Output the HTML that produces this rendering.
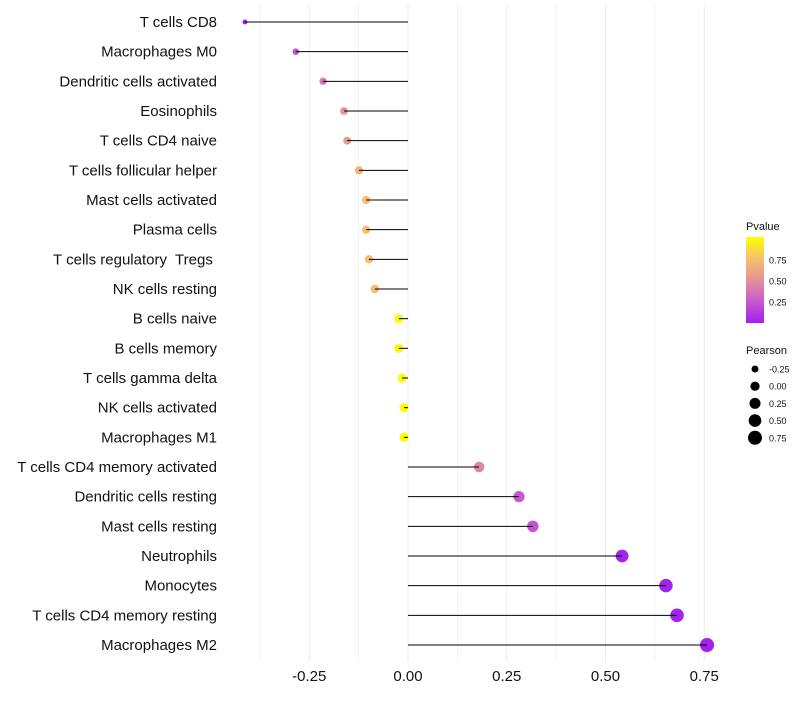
<!DOCTYPE html>
<html><head><meta charset="utf-8"><style>
body{margin:0;background:#fff;font-family:"Liberation Sans",sans-serif}
text{white-space:pre}
</style></head><body>
<svg id="chart" width="800" height="700" xmlns="http://www.w3.org/2000/svg" font-family="Liberation Sans, sans-serif"></svg>
<script>
const categories=["T cells CD8","Macrophages M0","Dendritic cells activated","Eosinophils","T cells CD4 naive","T cells follicular helper","Mast cells activated","Plasma cells","T cells regulatory  Tregs ","NK cells resting","B cells naive","B cells memory","T cells gamma delta","NK cells activated","Macrophages M1","T cells CD4 memory activated","Dendritic cells resting","Mast cells resting","Neutrophils","Monocytes","T cells CD4 memory resting","Macrophages M2"];
const pearson=[-0.413,-0.284,-0.215,-0.162,-0.154,-0.124,-0.106,-0.106,-0.099,-0.084,-0.023,-0.023,-0.015,-0.010,-0.010,0.180,0.281,0.316,0.542,0.653,0.681,0.757];
const pvalue=[0.02,0.22,0.38,0.5,0.55,0.68,0.75,0.75,0.75,0.72,0.98,0.97,0.98,0.99,0.99,0.45,0.25,0.22,0.02,0.01,0.01,0.005];
const xTicks=[-0.25,0,0.25,0.5,0.75];
const xTickLabels=["-0.25","0.00","0.25","0.50","0.75"];
const legendPTicks=[0.25,0.5,0.75];
const legendSizes=[-0.25,0,0.25,0.5,0.75];

const svg=document.getElementById('chart');
const NS="http://www.w3.org/2000/svg";
const x=v=>408+v*395;
const y=i=>22+i*(623/21);
const r=v=>Math.sqrt(Math.max(4,21.25+37*v));
const stops=[[0,[160,32,240]],[0.3,[206,100,196]],[0.5,[228,146,150]],[0.75,[244,192,110]],[1,[255,255,0]]];
function col(p){for(let k=1;k<stops.length;k++){if(p<=stops[k][0]){const a=stops[k-1],b=stops[k],t=(p-a[0])/(b[0]-a[0]);return 'rgb('+a[1].map((c,j)=>Math.round(c+(b[1][j]-c)*t)).join(',')+')';}}return 'rgb(255,255,0)';}
function el(t,a,p){const e=document.createElementNS(NS,t);for(const k in a)e.setAttribute(k,a[k]);(p||svg).appendChild(e);return e;}

for(let v=-0.375;v<=0.76;v+=0.125){
 const g=el('line',{x1:x(v),x2:x(v),y1:5,y2:662,stroke:'#ebebeb','stroke-width':Math.abs(v/0.25-Math.round(v/0.25))<0.01?1:0.6});
 
 
}
xTicks.forEach((v,i)=>{
 const t=el('text',{x:x(v),y:681,'text-anchor':'middle','font-size':15,fill:'#111'});t.textContent=xTickLabels[i];
 
 
});
categories.forEach((c,i)=>{
 const t=el('text',{x:217,y:y(i)+5,'text-anchor':'end','font-size':15,fill:'#111'});t.textContent=c;
 
 
 const d=el('circle',{cx:x(pearson[i]),cy:y(i),r:r(pearson[i]),fill:col(pvalue[i])});
 
 
 const l=el('line',{x1:x(0),x2:x(pearson[i]),y1:y(i),y2:y(i),stroke:'#000','stroke-width':1});
 
 
});
const lt=el('text',{x:746,y:230,'font-size':11,fill:'#111'});lt.textContent='Pvalue';


const defs=el('defs',{});const lg=el('linearGradient',{id:'pg',x1:0,y1:1,x2:0,y2:0},defs);
stops.forEach(s=>el('stop',{offset:s[0],'stop-color':'rgb('+s[1].join(',')+')'},lg));
const bar=el('rect',{x:746,y:237,width:18,height:86,fill:'url(#pg)'});


legendPTicks.forEach(p=>{const yy=323-p*86*0.98;
 const t=el('text',{x:769,y:yy+3.5,'font-size':9,fill:'#111'});t.textContent=p.toFixed(2);
 
 });
const st=el('text',{x:746,y:354,'font-size':11,fill:'#111'});st.textContent='Pearson';


legendSizes.forEach((v,i)=>{const yy=369+i*17.2;
 const c=el('circle',{cx:755,cy:yy,r:r(v),fill:'#000'});
 
 
 const t=el('text',{x:769,y:yy+3.5,'font-size':9,fill:'#111'});t.textContent=v.toFixed(2);
 
 });
</script>
</body></html>
